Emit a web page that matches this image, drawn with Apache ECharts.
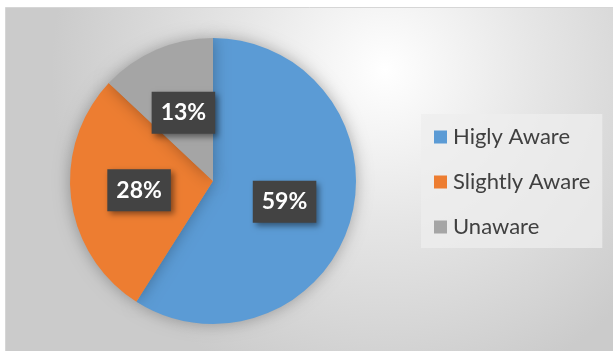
<!DOCTYPE html>
<html>
<head>
<meta charset="utf-8">
<script src="https://cdn.jsdelivr.net/npm/echarts@6/dist/echarts.min.js"></script>
<style>
  html, body { margin: 0; padding: 0; background: #ffffff; }
  #chart { width: 613px; height: 351px; }
</style>
</head>
<body>
<div id="chart"></div>
<script>
// Awareness levels, in percent
const categories = ['Higly Aware', 'Slightly Aware', 'Unaware'];
const shares = [59, 28, 13];
const sliceColors = ['#5B9BD5', '#ED7D31', '#A5A5A5'];

const chart = echarts.init(document.getElementById('chart'), null, { renderer: 'canvas' });

const option = {
  animation: false,
  color: sliceColors,
  graphic: [{
    type: 'rect',
    silent: true,
    z: -10,
    shape: { x: 5.5, y: 7.5, width: 612, height: 350 },
    style: {
      fill: {
        type: 'radial', x: 0.62, y: 0.18, r: 0.95,
        colorStops: [
          { offset: 0, color: '#ffffff' },
          { offset: 0.45, color: '#e6e6e6' },
          { offset: 1, color: '#cbcbcb' }
        ]
      },
      stroke: '#d6d6d6',
      lineWidth: 1
    }
  }],
  legend: {
    orient: 'vertical',
    left: 421,
    top: 114,
    padding: [12, 12, 10, 13],
    backgroundColor: 'rgba(238,238,238,0.75)',
    itemWidth: 13,
    itemHeight: 13,
    itemGap: 23,
    icon: 'rect',
    textStyle: {
      fontFamily: 'Lato',
      fontSize: 22,
      lineHeight: 22,
      color: '#404040',
      padding: [0, 0, 0, 1]
    },
    data: categories
  },
  series: [{
    type: 'pie',
    center: [213, 181],
    radius: 143,
    startAngle: 90,
    clockwise: true,
    itemStyle: {
      shadowBlur: 16,
      shadowColor: 'rgba(0,0,0,0.3)'
    },
    emphasis: { disabled: true },
    label: {
      show: true,
      position: 'inside',
      formatter: '{c}%',
      fontFamily: 'Lato',
      fontWeight: 'bold',
      fontSize: 23,
      lineHeight: 26,
      color: '#ffffff',
      backgroundColor: '#434343',
      padding: [8, 9, 8, 9],
      shadowColor: 'rgba(0,0,0,0.45)',
      shadowBlur: 6,
      shadowOffsetX: 3,
      shadowOffsetY: 3
    },
    labelLine: { show: false },
    data: categories.map((name, i) => ({ name: name, value: shares[i] }))
  }]
};

chart.setOption(option);
</script>
</body>
</html>
